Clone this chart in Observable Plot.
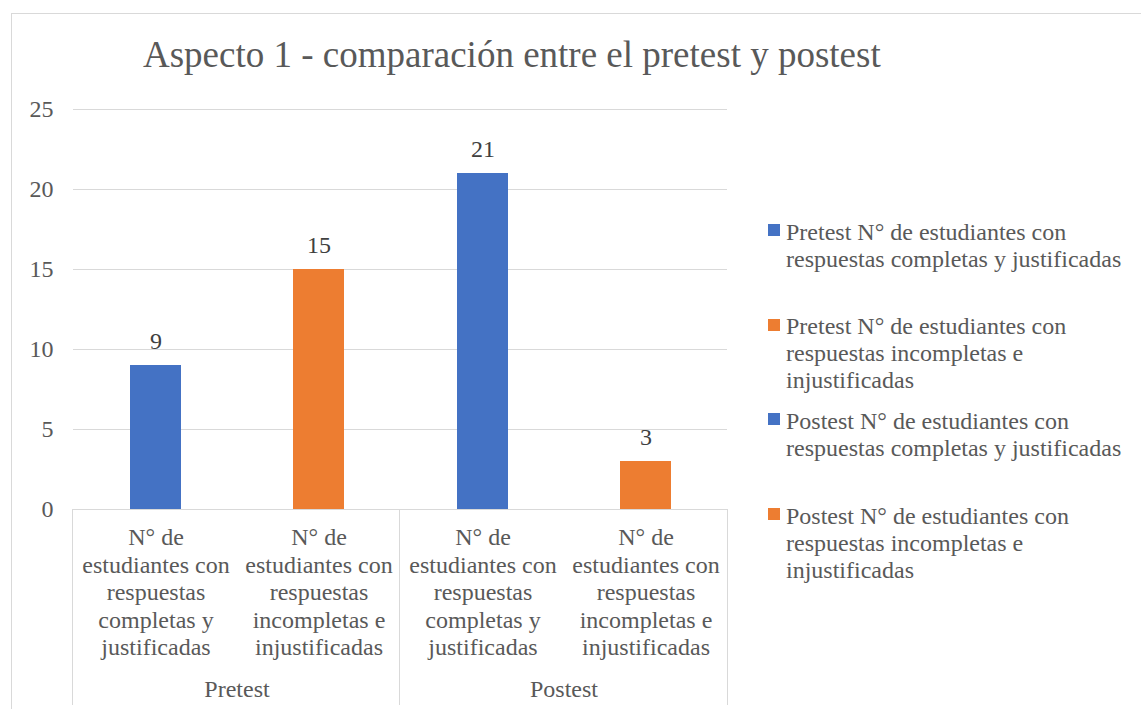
<!DOCTYPE html>
<html>
<head>
<meta charset="utf-8">
<script src="https://cdn.jsdelivr.net/npm/d3@7"></script>
<script src="https://cdn.jsdelivr.net/npm/@observablehq/plot@0.6"></script>
<style>
  html, body { margin: 0; padding: 0; background: #fff; overflow: hidden; }
  #wrap { position: relative; width: 1141px; height: 709px; font-family: 'Liberation Serif', 'Times New Roman', serif; color: #595959; }
  #frame { position: absolute; left: 11px; top: 13px; width: 1200px; height: 800px; border: 1px solid #d9d9d9; box-sizing: border-box; }
  #chart { position: absolute; left: 0; top: 0; }
  #title { position: absolute; left: 143px; top: 36px; font-size: 37px; line-height: 37px; white-space: nowrap; color: #595959; }
  #legend { position: absolute; left: 768px; top: 218.5px; }
  .item { display: flex; align-items: flex-start; height: 94.7px; }
  .sw { width: 12px; height: 12px; margin-top: 5.5px; margin-right: 6px; flex: none; }
  .lab { font-size: 24px; line-height: 27px; white-space: pre; }
</style>
</head>
<body>
<div id="wrap">
  <div id="frame"></div>
  <div id="chart"></div>
  <div id="title"></div>
  <div id="legend"></div>
</div>
<script>
const chartTitle = "Aspecto 1 - comparación entre el pretest y postest";
const groups = ["Pretest", "Postest"];
const measureKeys = ["completas", "incompletas"];
const measureLabels = [
  "N° de\nestudiantes con\nrespuestas\ncompletas y\njustificadas",
  "N° de\nestudiantes con\nrespuestas\nincompletas e\ninjustificadas"
];
const pretestValues = [9, 15];
const postestValues = [21, 3];
const seriesColors = ["#4472C4", "#ED7D31"];
const yTicks = [0, 5, 10, 15, 20, 25];
const legendLabels = [
  "Pretest N° de estudiantes con\nrespuestas completas y justificadas",
  "Pretest N° de estudiantes con\nrespuestas incompletas e\ninjustificadas",
  "Postest N° de estudiantes con\nrespuestas completas y justificadas",
  "Postest N° de estudiantes con\nrespuestas incompletas e\ninjustificadas"
];
const legendColors = [seriesColors[0], seriesColors[1], seriesColors[0], seriesColors[1]];

const valuesByGroup = {Pretest: pretestValues, Postest: postestValues};
const rows = [];
groups.forEach(g => measureKeys.forEach((m, i) => rows.push({group: g, measure: m, label: measureLabels[i], value: valuesByGroup[g][i]})));

const font = "'Liberation Serif', 'Times New Roman', serif";
const pIn = 1 - 51 / 163.75;

const chart = Plot.plot({
  width: 1141,
  height: 709,
  marginLeft: 72,
  marginRight: 414,
  marginTop: 109,
  marginBottom: 200,
  style: {fontFamily: font, fontSize: "24px", color: "#595959", background: "transparent", overflow: "visible"},
  fx: {domain: groups, padding: 0, axis: null, label: null},
  x: {domain: measureKeys, paddingInner: pIn, paddingOuter: pIn / 2, axis: null, label: null},
  y: {domain: [0, 25], ticks: yTicks, tickSize: 0, tickPadding: 20, label: null, tickFormat: d => String(d)},
  color: {domain: measureKeys, range: seriesColors},
  marks: [
    Plot.ruleY(yTicks, {stroke: "#d9d9d9", strokeWidth: 1}),
    Plot.barY(rows, {fx: "group", x: "measure", y: "value", fill: "measure"}),
    Plot.text(rows, {fx: "group", x: "measure", y: "value", text: d => String(d.value), dy: -24, fill: "#404040", fontSize: 24, fontFamily: font}),
    Plot.text(rows, {fx: "group", x: "measure", y: () => 0, text: "label", lineAnchor: "top", dy: 16, lineHeight: 1.15, fontSize: 24, fill: "#595959", fontFamily: font}),
    Plot.text(groups, {fx: d => d, frameAnchor: "bottom", text: d => d, dy: 187, fontSize: 24, fill: "#595959", fontFamily: font})
  ]
});

// category separators below the axis, placed from the facet scale
const fxS = chart.scale("fx");
const yS = chart.scale("y");
const band = d3.scaleBand(fxS.domain, fxS.range)
  .paddingInner(fxS.paddingInner ?? 0)
  .paddingOuter(fxS.paddingOuter ?? 0)
  .align(fxS.align ?? 0.5);
const edges = Array.from(new Set(fxS.domain.flatMap(d => [band(d), band(d) + band.bandwidth()]).map(v => Math.round(v * 2) / 2)));
const y0 = yS.range[0];
d3.select(chart).append("g")
  .attr("stroke", "#d9d9d9")
  .selectAll("line").data(edges).join("line")
  .attr("x1", d => Math.floor(d) + 0.5).attr("x2", d => Math.floor(d) + 0.5)
  .attr("y1", y0).attr("y2", 705);

document.getElementById("chart").appendChild(chart);
document.getElementById("title").textContent = chartTitle;

const legend = d3.select("#legend");
legendLabels.forEach((t, i) => {
  const it = legend.append("div").attr("class", "item");
  it.append("div").attr("class", "sw").style("background", legendColors[i]);
  it.append("div").attr("class", "lab").text(t);
});
</script>
</body>
</html>
